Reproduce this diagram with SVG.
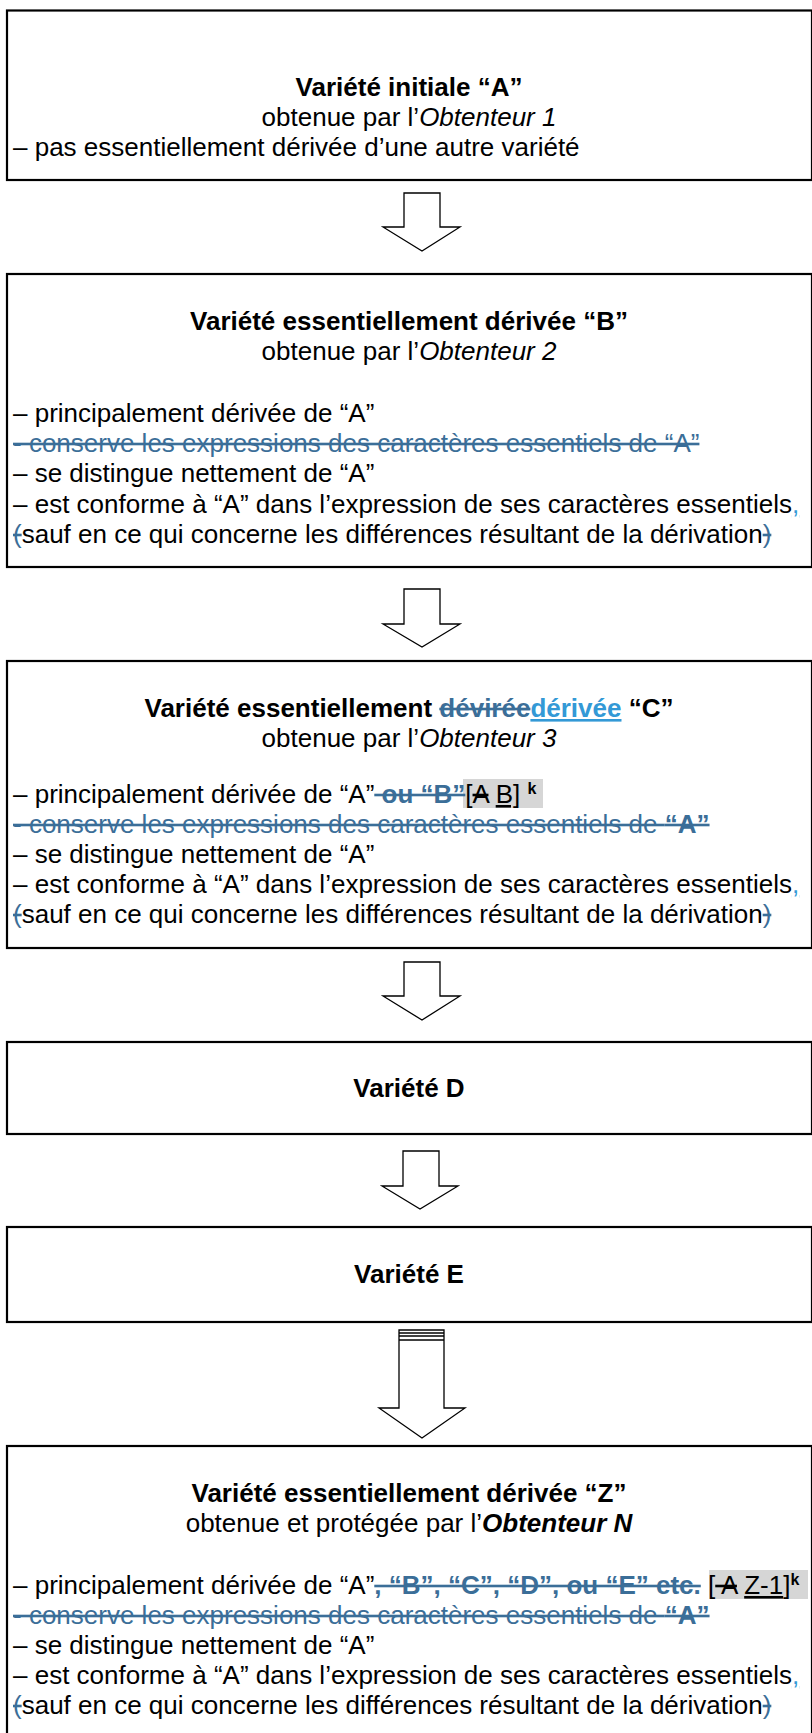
<svg xmlns="http://www.w3.org/2000/svg" width="812" height="1733" viewBox="0 0 812 1733">
<style>
.box{fill:#fff;stroke:#000;stroke-width:2.2}
.arr{fill:#fff;stroke:#000;stroke-width:1.3;stroke-linejoin:miter}
text{font-family:"Liberation Sans",Arial,sans-serif;font-size:26px;fill:#000}
.c{text-anchor:middle}
.b{font-weight:bold}
.i{font-style:italic}
.del{fill:#3B6E98;text-decoration:line-through}
.ins{fill:#3399D6;text-decoration:underline}
.st{text-decoration:line-through}
.ul{text-decoration:underline}
.hl{fill:#D6D6D6}
.sup{font-size:16px;font-weight:bold}
</style>
<rect width="812" height="1733" fill="#fff"/>
<g id="connectors">
<polygon class="arr" points="404,193 440,193 440,227 460,227 422,251 383,227 404,227"/>
<polygon class="arr" points="404,589 440,589 440,624 460,624 422,647 383,624 404,624"/>
<polygon class="arr" points="404,962 440,962 440,996 460,996 422,1020 383,996 404,996"/>
<polygon class="arr" points="403,1151 439,1151 439,1186 458,1186 420,1209 382,1186 403,1186"/>
<polygon class="arr" points="399,1330 444,1330 444,1408 465,1408 422,1438 379,1408 399,1408"/>
<g stroke="#000" stroke-width="1.3">
<line x1="399" y1="1333" x2="444" y2="1333"/>
<line x1="399" y1="1336" x2="444" y2="1336"/>
<line x1="399" y1="1340" x2="444" y2="1340"/>
</g>
</g>
<g id="node-A">
<rect class="box" x="7" y="10.5" width="805" height="169.5"/>
<text class="c b" x="409" y="96">Variété initiale “A”</text>
<text class="c" x="409" y="126">obtenue par l’<tspan class="i">Obtenteur 1</tspan></text>
<text x="13" y="156">– pas essentiellement dérivée d’une autre variété</text>
</g>
<g id="node-B">
<rect class="box" x="7" y="274" width="805" height="293"/>
<text class="c b" x="409" y="330">Variété essentiellement dérivée “B”</text>
<text class="c" x="409" y="360">obtenue par l’<tspan class="i">Obtenteur 2</tspan></text>
<text x="13" y="422">– principalement dérivée de “A”</text>
<text x="13" y="452" class="del">- conserve les expressions des caractères essentiels de “A”</text>
<text x="13" y="482">– se distingue nettement de “A”</text>
<text x="13" y="513">– est conforme à “A” dans l’expression de ses caractères essentiels<tspan class="ins">,</tspan></text>
<text x="13" y="543"><tspan class="del">(</tspan>sauf en ce qui concerne les différences résultant de la dérivation<tspan class="del">)</tspan></text>
</g>
<g id="node-C">
<rect class="box" x="7" y="661" width="805" height="287"/>
<rect class="hl" x="463" y="779" width="80" height="29"/>
<text class="c b" x="409" y="717">Variété essentiellement <tspan class="del">dévirée</tspan><tspan class="ins">dérivée</tspan> “C”</text>
<text class="c" x="409" y="747">obtenue par l’<tspan class="i">Obtenteur 3</tspan></text>
<text x="13" y="803">– principalement dérivée de “A”<tspan class="del b"> ou “B”</tspan>[<tspan class="st">A</tspan> <tspan class="ul">B]</tspan> <tspan class="sup" dy="-9">k</tspan></text>
<text x="13" y="833" class="del">- conserve les expressions des caractères essentiels de <tspan class="b">“A”</tspan></text>
<text x="13" y="863">– se distingue nettement de “A”</text>
<text x="13" y="893">– est conforme à “A” dans l’expression de ses caractères essentiels<tspan class="ins">,</tspan></text>
<text x="13" y="923"><tspan class="del">(</tspan>sauf en ce qui concerne les différences résultant de la dérivation<tspan class="del">)</tspan></text>
</g>
<g id="node-D">
<rect class="box" x="7" y="1042" width="805" height="92"/>
<text class="c b" x="409" y="1097">Variété D</text>
</g>
<g id="node-E">
<rect class="box" x="7" y="1227" width="805" height="95"/>
<text class="c b" x="409" y="1283">Variété E</text>
</g>
<g id="node-Z">
<rect class="box" x="7" y="1446" width="805" height="300"/>
<rect class="hl" x="709" y="1570" width="99" height="29"/>
<text class="c b" x="409" y="1502">Variété essentiellement dérivée “Z”</text>
<text class="c" x="409" y="1532">obtenue et protégée par l’<tspan class="i b">Obtenteur N</tspan></text>
<text x="13" y="1594">– principalement dérivée de “A”<tspan class="del b">, “B”, “C”, “D”, ou “E” etc.</tspan> [<tspan class="st"> A</tspan> <tspan class="ul">Z-1</tspan>]<tspan class="sup" dy="-9">k</tspan></text>
<text x="13" y="1624" class="del">- conserve les expressions des caractères essentiels de <tspan class="b">“A”</tspan></text>
<text x="13" y="1654">– se distingue nettement de “A”</text>
<text x="13" y="1684">– est conforme à “A” dans l’expression de ses caractères essentiels<tspan class="ins">,</tspan></text>
<text x="13" y="1714"><tspan class="del">(</tspan>sauf en ce qui concerne les différences résultant de la dérivation<tspan class="del">)</tspan></text>
</g>
</svg>
